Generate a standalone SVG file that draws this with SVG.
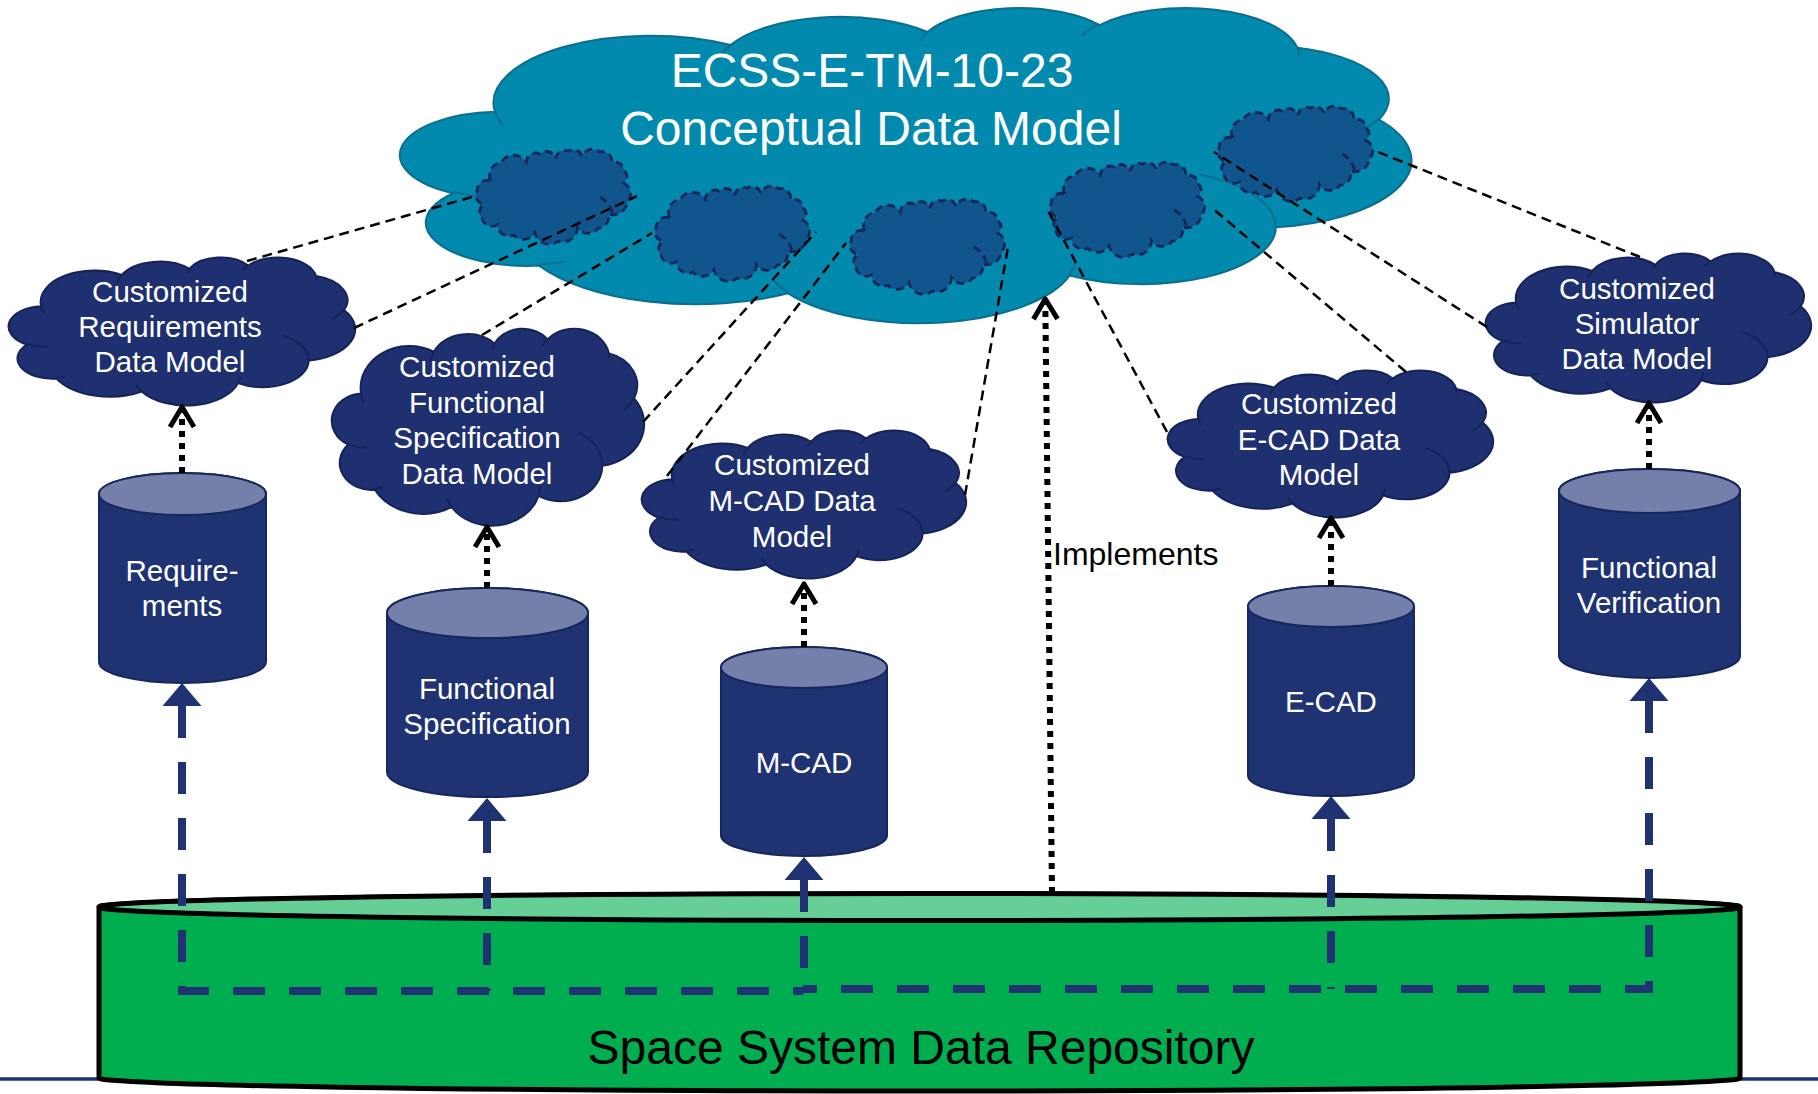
<svg xmlns="http://www.w3.org/2000/svg" xmlns:xlink="http://www.w3.org/1999/xlink" width="1818" height="1094" viewBox="0 0 1818 1094">
  <defs>
    <style>
      .lbl { font-family: "Liberation Sans", Arial, Helvetica, sans-serif; fill: #ffffff; text-anchor: middle; font-size: 29.5px; }
      .title { font-size: 48px; }
      .dark { fill: #000000; }
      .cdm { fill: #0189ae; stroke: #0b6e8e; stroke-width: 2; }
      .cdm-arc { stroke: #0b6e8e; stroke-width: 2; }
      .model { fill: #1f3070; stroke: #15235a; stroke-width: 2; }
      .model-arc { stroke: #15235a; stroke-width: 2; }
      .view { fill: #11558f; stroke: #1a2757; stroke-width: 2.8; stroke-dasharray: 8 5; }
      .view-arc { fill: none; stroke: #1a2757; stroke-width: 2.8; stroke-dasharray: 8 5; }
      .cyl { fill: #1f3272; stroke: #16265e; stroke-width: 2; }
      .cyl-top { fill: #7580aa; stroke: #16265e; stroke-width: 2; }
      .link { fill: none; stroke: #000000; stroke-width: 2.5; stroke-dasharray: 10 6; }
      .impl { fill: none; stroke: #000000; stroke-width: 6; stroke-dasharray: 6 6; marker-end: url(#open); }
      .feed { fill: none; stroke: #1f3272; stroke-width: 8; stroke-dasharray: 32 24; }
    </style>

    <!-- cloud outline in a 43200 x 43200 design box -->
    <path id="cloud" vector-effect="non-scaling-stroke" d="M3900 14370 A6753 9190 0 0 1 14005 5202 A5333 7267 0 0 1 22456 3432 A4365 5945 0 0 1 29834 2482 A4857 6595 0 0 1 38319 5577 A5333 7273 0 0 1 41820 15461 A6775 9220 0 0 1 37405 30203 A5785 7867 0 0 1 28557 36813 A6752 9215 0 0 1 16480 39263 A7720 10543 0 0 1 5803 35467 A4360 5918 0 0 1 2113 25544 A4345 5945 0 0 1 3900 14370 Z"/>
    <!-- inner lobe arcs of the cloud -->
    <path id="cloudArcs" fill="none" vector-effect="non-scaling-stroke" d="M4693 26177 A4345 5945 0 0 1 2159 25380 M6928 34899 A4360 5918 0 0 1 5819 35281 M16478 39090 A6752 9215 0 0 1 15811 37349 M28827 34751 A6752 9215 0 0 1 28560 36660 M34129 22954 A5785 7867 0 0 1 37381 30089 M41798 15354 A5333 7273 0 0 1 40350 18031 M38324 5426 A4857 6595 0 0 1 38400 6690 M29078 3952 A4857 6595 0 0 1 29821 2339 M22141 4720 A4365 5945 0 0 1 22500 3331 M13463 7349 A5333 7267 0 0 1 14005 5202 M4245 16275 A6753 9190 0 0 1 3900 14370"/>

    <!-- scalloped view cloud, 166 x 102 -->
    <path id="viewCloud" d="M20.7 35.9 A13 13 0 0 1 31.1 17.4 A15 15 0 0 1 56.3 16.8 A9.5 9.5 0 0 1 70 9 A10 10 0 0 1 86 13.2 A8.5 8.5 0 0 1 98.3 6.3 A9 9 0 0 1 112 11.2 A11 11 0 0 1 129.4 6.8 A10 10 0 0 1 141.8 17.6 A9 9 0 0 1 153.8 25.6 A8 8 0 0 1 154.1 38.2 A12 12 0 0 1 157.3 57.2 A14 14 0 0 1 138.6 68.9 A11.5 11.5 0 0 1 128.1 83.2 A12.5 12.5 0 0 1 107.5 82.7 A14.5 14.5 0 0 1 88.2 96.1 A14.5 14.5 0 0 1 65 87.8 A13 13 0 0 1 44.1 90.2 A12 12 0 0 1 27.4 79.9 A10.5 10.5 0 0 1 11.9 73.2 A9 9 0 0 1 14.4 59.2 A9 9 0 0 1 7.2 45.9 A10 10 0 0 1 20.7 35.9 Z"/>
    <path id="viewArc" d="M130 52 Q141 58 143 70"/>

    <marker id="open" markerUnits="userSpaceOnUse" orient="auto" refX="0" refY="0" markerWidth="40" markerHeight="40" style="overflow:visible">
      <path d="M-17 -12 L3 0 L-17 12" fill="none" stroke="#000000" stroke-width="5" stroke-linejoin="round"/>
    </marker>
    <marker id="tri" markerUnits="userSpaceOnUse" orient="auto-start-reverse" refX="0" refY="0" markerWidth="50" markerHeight="50" style="overflow:visible">
      <path d="M23 0 L0 -19.5 L0 19.5 Z" fill="#1f3272"/>
    </marker>
  </defs>

  <rect width="1818" height="1094" fill="#ffffff"/>

  <!-- base rule -->
  <path d="M0 1079 H1818" stroke="#1f3272" stroke-width="3.5"/>

  <!-- repository -->
  <g id="repository">
    <path d="M99 907 V1078 A820.5 13 0 0 0 1740 1078 V907 A820.5 13 0 0 0 99 907 Z" fill="#00ae50" stroke="#000000" stroke-width="5"/>
    <ellipse cx="919.5" cy="907" rx="820.5" ry="13.5" fill="#66cf96" stroke="#000000" stroke-width="5"/>
    <text class="lbl title dark" x="921" y="1064">Space System Data Repository</text>
  </g>

  <!-- tool databases -->
  <g id="db-requirements">
    <path class="cyl" d="M99 494 V662 A83.5 21 0 0 0 266 662 V494 A83.5 21 0 0 0 99 494 Z"/>
    <ellipse class="cyl-top" cx="182.5" cy="494" rx="83.5" ry="21"/>
    <text class="lbl" x="182" y="581">Require-</text>
    <text class="lbl" x="182" y="616">ments</text>
  </g>
  <g id="db-functional-spec">
    <path class="cyl" d="M387 613 V772 A100.5 25 0 0 0 588 772 V613 A100.5 25 0 0 0 387 613 Z"/>
    <ellipse class="cyl-top" cx="487.5" cy="613" rx="100.5" ry="25"/>
    <text class="lbl" x="487" y="699">Functional</text>
    <text class="lbl" x="487" y="734">Specification</text>
  </g>
  <g id="db-mcad">
    <path class="cyl" d="M721 667.5 V835.5 A83 20.5 0 0 0 887 835.5 V667.5 A83 20.5 0 0 0 721 667.5 Z"/>
    <ellipse class="cyl-top" cx="804" cy="667.5" rx="83" ry="20.5"/>
    <text class="lbl" x="804" y="773">M-CAD</text>
  </g>
  <g id="db-ecad">
    <path class="cyl" d="M1248 606.5 V775.5 A83 20.5 0 0 0 1414 775.5 V606.5 A83 20.5 0 0 0 1248 606.5 Z"/>
    <ellipse class="cyl-top" cx="1331" cy="606.5" rx="83" ry="20.5"/>
    <text class="lbl" x="1331" y="712">E-CAD</text>
  </g>
  <g id="db-functional-verification">
    <path class="cyl" d="M1559 491 V656 A90.5 22 0 0 0 1740 656 V491 A90.5 22 0 0 0 1559 491 Z"/>
    <ellipse class="cyl-top" cx="1649.5" cy="491" rx="90.5" ry="22"/>
    <text class="lbl" x="1649" y="578">Functional</text>
    <text class="lbl" x="1649" y="613">Verification</text>
  </g>

  <!-- customized data models -->
  <g id="model-requirements">
    <use xlink:href="#cloud" class="model" transform="translate(10 257) scale(0.0079861 0.0034259)"/>
    <use xlink:href="#cloudArcs" class="model-arc" transform="translate(10 257) scale(0.0079861 0.0034259)"/>
    <text class="lbl" x="170" y="302">Customized</text>
    <text class="lbl" x="170" y="337">Requirements</text>
    <text class="lbl" x="170" y="372">Data Model</text>
  </g>
  <g id="model-functional-spec">
    <use xlink:href="#cloud" class="model" transform="translate(333 328) scale(0.0071991 0.0045602)"/>
    <use xlink:href="#cloudArcs" class="model-arc" transform="translate(333 328) scale(0.0071991 0.0045602)"/>
    <text class="lbl" x="477" y="377">Customized</text>
    <text class="lbl" x="477" y="413">Functional</text>
    <text class="lbl" x="477" y="448">Specification</text>
    <text class="lbl" x="477" y="484">Data Model</text>
  </g>
  <g id="model-mcad">
    <use xlink:href="#cloud" class="model" transform="translate(643 430) scale(0.0074769 0.0034259)"/>
    <use xlink:href="#cloudArcs" class="model-arc" transform="translate(643 430) scale(0.0074769 0.0034259)"/>
    <text class="lbl" x="792" y="475">Customized</text>
    <text class="lbl" x="792" y="511">M-CAD Data</text>
    <text class="lbl" x="792" y="547">Model</text>
  </g>
  <g id="model-ecad">
    <use xlink:href="#cloud" class="model" transform="translate(1169 370) scale(0.0075 0.0034028)"/>
    <use xlink:href="#cloudArcs" class="model-arc" transform="translate(1169 370) scale(0.0075 0.0034028)"/>
    <text class="lbl" x="1319" y="414">Customized</text>
    <text class="lbl" x="1319" y="450">E-CAD Data</text>
    <text class="lbl" x="1319" y="485">Model</text>
  </g>
  <g id="model-simulator">
    <use xlink:href="#cloud" class="model" transform="translate(1487 253) scale(0.0075 0.0034491)"/>
    <use xlink:href="#cloudArcs" class="model-arc" transform="translate(1487 253) scale(0.0075 0.0034491)"/>
    <text class="lbl" x="1637" y="299">Customized</text>
    <text class="lbl" x="1637" y="334">Simulator</text>
    <text class="lbl" x="1637" y="369">Data Model</text>
  </g>

  <!-- conceptual data model with its views -->
  <g id="conceptual-data-model">
    <use xlink:href="#cloud" class="cdm" transform="translate(404 7) scale(0.02331 0.0072917)"/>
    <use xlink:href="#cloudArcs" class="cdm-arc" transform="translate(404 7) scale(0.02331 0.0072917)"/>
    <text class="lbl title" x="872" y="87">ECSS-E-TM-10-23</text>
    <text class="lbl title" x="871" y="145">Conceptual Data Model</text>
    <g id="view-1" transform="translate(470 145)">
      <use xlink:href="#viewCloud" class="view"/><use xlink:href="#viewArc" class="view-arc"/>
    </g>
    <g id="view-2" transform="translate(649 182)">
      <use xlink:href="#viewCloud" class="view"/><use xlink:href="#viewArc" class="view-arc"/>
    </g>
    <g id="view-3" transform="translate(844 195)">
      <use xlink:href="#viewCloud" class="view"/><use xlink:href="#viewArc" class="view-arc"/>
    </g>
    <g id="view-4" transform="translate(1044 158)">
      <use xlink:href="#viewCloud" class="view"/><use xlink:href="#viewArc" class="view-arc"/>
    </g>
    <g id="view-5" transform="translate(1212 102)">
      <use xlink:href="#viewCloud" class="view"/><use xlink:href="#viewArc" class="view-arc"/>
    </g>
  </g>

  <g id="connectors">
    <!-- views of the conceptual model to customized models -->
    <path class="link" d="M247 261 L472 197"/>
    <path class="link" d="M354 328 L637 196"/>
    <path class="link" d="M482 335 L652 233"/>
    <path class="link" d="M643 422 L816 232"/>
    <path class="link" d="M667 476 L846 243"/>
    <path class="link" d="M965 495 L1008 247"/>
    <path class="link" d="M1167 432 L1046 207"/>
    <path class="link" d="M1406 372 L1211 207"/>
    <path class="link" d="M1487 327 L1214 152"/>
    <path class="link" d="M1640 257 L1378 152"/>

    <!-- databases implement customized models -->
    <path class="impl" d="M182 473 V410"/>
    <path class="impl" d="M487 588 V530"/>
    <path class="impl" d="M804 647 V587"/>
    <path class="impl" d="M1331 586 V521"/>
    <path class="impl" d="M1649 469 V406"/>
    <path class="impl" d="M1052 893 L1045.3 302"/>
    <text class="lbl dark" x="1053" y="565" style="text-anchor:start;font-size:32px">Implements</text>

    <!-- repository feeds the databases -->
    <path class="feed" d="M182 706 V991 H803" marker-start="url(#tri)"/>
    <path class="feed" d="M487 821 V991" marker-start="url(#tri)"/>
    <path class="feed" d="M804 880 V991" marker-start="url(#tri)"/>
    <path class="feed" d="M1331 819 V989" marker-start="url(#tri)"/>
    <path class="feed" d="M1649 701 V989 H803" marker-start="url(#tri)"/>
  </g>
</svg>
